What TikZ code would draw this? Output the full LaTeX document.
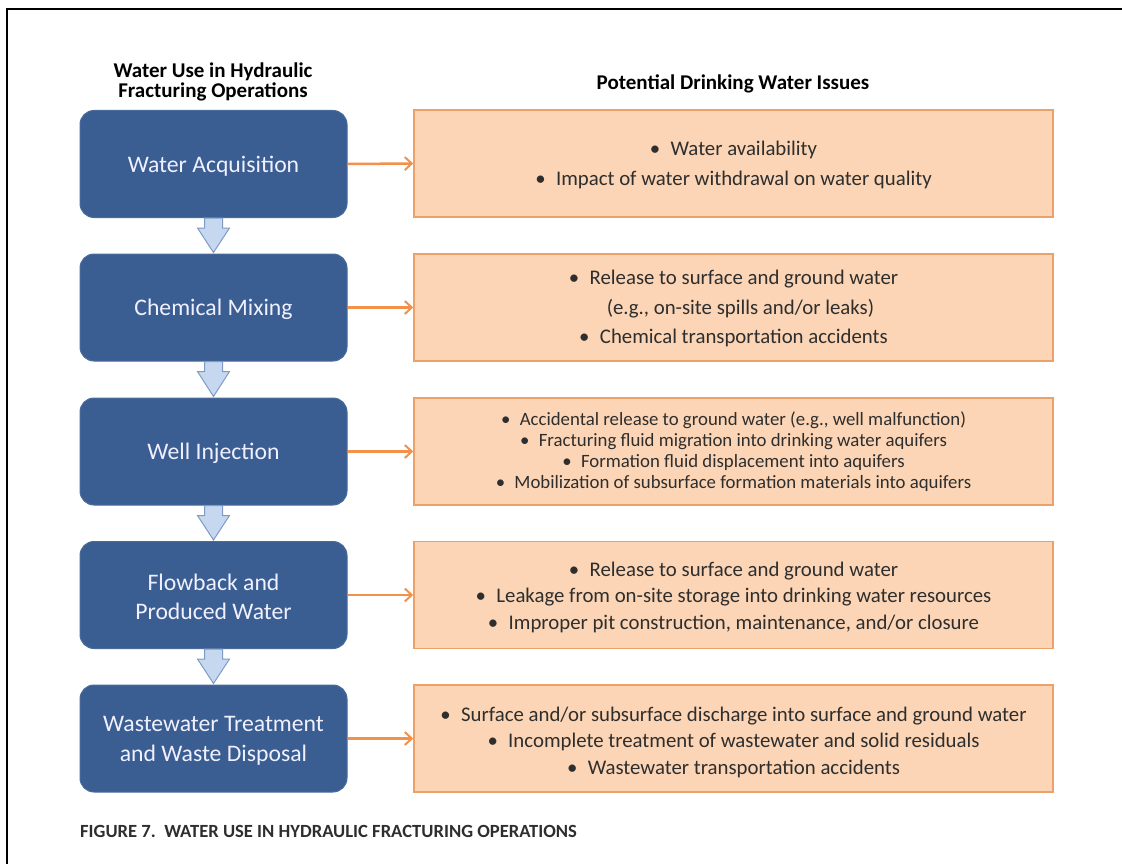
\documentclass[tikz,border=0pt]{standalone}
\usepackage{fontspec}
\setmainfont{Carlito}
\usetikzlibrary{arrows.meta,calc}
\definecolor{bluebox}{HTML}{3A5E91}
\definecolor{blueedge}{HTML}{4A6C9C}
\definecolor{orfill}{HTML}{FBD5B5}
\definecolor{oredge}{HTML}{EDA067}
\definecolor{orline}{HTML}{F3904A}
\definecolor{arrfill}{HTML}{C6D8F0}
\definecolor{arredge}{HTML}{7E9BC3}
\definecolor{txt}{HTML}{2E2E2E}
\newcommand{\bul}{\textbullet\hspace{0.5em}}
\tikzset{
  stage/.style={rounded corners=14pt, fill=bluebox, draw=blueedge, line width=1pt,
    minimum width=267pt, minimum height=107pt, text=white!94!blue,
    align=center, inner sep=0pt},
  stagetxt/.style={font=\fontsize{23.7}{29.5}\selectfont, text=white!94!blue, align=center, inner sep=0pt},
  issue/.style={fill=orfill, draw=oredge, line width=1.5pt,
    minimum width=639pt, minimum height=107pt, inner sep=0pt},
  issuetxt/.style={text=txt, align=center, inner sep=0pt},
  txtA/.style={font=\fontsize{20.8}{30}\selectfont},
  txtB/.style={font=\fontsize{20.8}{29.5}\selectfont},
  txtC/.style={font=\fontsize{18.8}{21}\selectfont},
  txtD/.style={font=\fontsize{20.8}{26.5}\selectfont},
  orarrow/.style={draw=orline, line width=2.5pt, -{Straight Barb[length=7pt,width=13pt,line width=2pt]}},
  downarr/.style={fill=arrfill, draw=arredge, line width=1pt, line join=miter},
  heading/.style={font=\bfseries\fontsize{21}{19.5}\selectfont, text=black, align=center, inner sep=0pt}
}
\begin{document}
\begin{tikzpicture}[x=1pt,y=-1pt]
\useasboundingbox (0,0) rectangle (1122,864);
\draw[line width=1.6pt] (7,864) -- (7,9) -- (1122,9);

\node[heading] (h1) at (213,82) {Water Use in Hydraulic\\Fracturing Operations};
\node[heading] (h2) at (733,84) {Potential Drinking Water Issues};

\node[stage] (b1) at (213.5,164) {};
\node[stage] (b2) at (213.5,307.5) {};
\node[stage] (b3) at (213.5,451.5) {};
\node[stage] (b4) at (213.5,595) {};
\node[stage] (b5) at (213.5,738.5) {};
\node[stagetxt] (t1) at (213.5,166) {Water Acquisition};
\node[stagetxt] (t2) at (213.5,309.5) {Chemical Mixing};
\node[stagetxt] (t3) at (213.5,453.5) {Well Injection};
\node[stagetxt] (t4) at (213.5,597) {Flowback and\\Produced Water};
\node[stagetxt] (t5) at (213.5,741) {Wastewater Treatment\\and Waste Disposal};

\node[issue] (i1) at (733.5,163.5) {};
\node[issue] (i2) at (733.5,307.5) {};
\node[issue] (i3) at (733.5,451.5) {};
\node[issue] (i4) at (733.5,595) {};
\node[issue] (i5) at (733.5,738.5) {};
\node[issuetxt, txtA] (u1) at (733.5,164.5) {\bul Water availability\\\bul Impact of water withdrawal on water quality};
\node[issuetxt, txtB] (u2) at (733.5,308.5) {\bul Release to surface and ground water\\\hspace*{14pt}(e.g., on-site spills and/or leaks)\\\bul Chemical transportation accidents};
\node[issuetxt, txtC] (u3) at (733.5,452) {\bul Accidental release to ground water (e.g., well malfunction)\\\bul Fracturing fluid migration into drinking water aquifers\\\bul Formation fluid displacement into aquifers\\\bul Mobilization of subsurface formation materials into aquifers};
\node[issuetxt, txtD] (u4) at (733.5,597) {\bul Release to surface and ground water\\\bul Leakage from on-site storage into drinking water resources\\\bul Improper pit construction, maintenance, and/or closure};
\node[issuetxt, txtD] (u5) at (733.5,742) {\bul Surface and/or subsurface discharge into surface and ground water\\\bul Incomplete treatment of wastewater and solid residuals\\\bul Wastewater transportation accidents};

\foreach \a/\b in {b1/i1,b2/i2,b3/i3,b4/i4,b5/i5}{
  \draw[orarrow] (\a.east) -- (\b.west);
}
\foreach \a/\b in {b1/b2,b2/b3,b3/b4,b4/b5}{
  \draw[downarr] ($(\a.south)+(-9,0)$) -- ($(\a.south)+(9,0)$) -- ($(\a.south)+(9,10)$)
    -- ($(\a.south)+(16,10)$) -- ($(\b.north)+(0,-1)$) -- ($(\a.south)+(-16,10)$)
    -- ($(\a.south)+(-9,10)$) -- cycle;
}

\node[font=\bfseries\fontsize{18.6}{20}\selectfont, text=txt, anchor=west, inner sep=0pt] (cap) at (80,831) {FIGURE 7.\ \ WATER USE IN HYDRAULIC FRACTURING OPERATIONS};
\end{tikzpicture}
\end{document}
